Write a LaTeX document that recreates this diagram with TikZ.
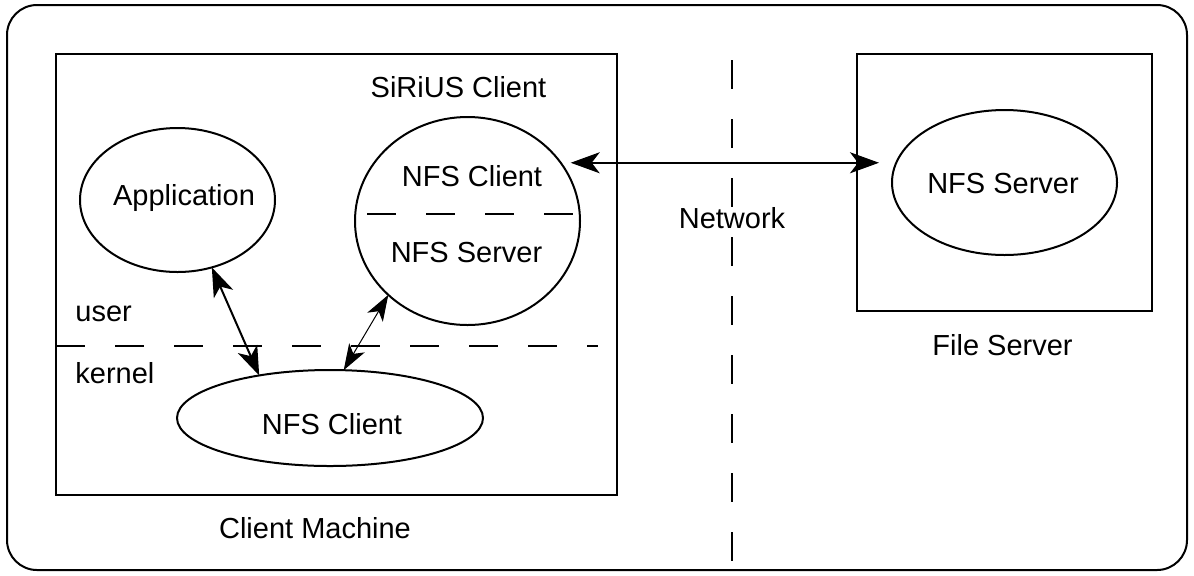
\documentclass[tikz,border=0pt]{standalone}
\usepackage{fontspec}
\setmainfont{Liberation Sans}
\usetikzlibrary{shapes.geometric,arrows.meta}

\tikzset{
  frame/.style={draw, line width=1pt, inner sep=0pt, outer sep=0pt},
  oval/.style={draw, ellipse, line width=1pt, inner sep=0pt, outer sep=0pt},
  txt/.style={font=\fontsize{14.5pt}{17pt}\selectfont, inner sep=0pt, text height=0.72em, text depth=0pt, yshift=-1.5pt},
  divider/.style={line width=1pt, dash pattern=on 14.5pt off 15pt},
  bigarrow/.style={line width=1pt, {Stealth[length=14.5pt,width=10.5pt,inset=4pt]}-{Stealth[length=14.5pt,width=10.5pt,inset=4pt]}},
  thinarrow/.style={line width=0.5pt, {Stealth[length=13pt,width=9pt,inset=3.5pt]}-{Stealth[length=13pt,width=9pt,inset=3.5pt]}}
}

\begin{document}
\begin{tikzpicture}[x=0.5pt, y=-0.5pt]
\useasboundingbox (0,0) rectangle (1194,575);

% outer frame
\draw[line width=1pt, rounded corners=15pt] (7,5) rectangle (1187,570);

% client machine
\node[frame, minimum width=280.5pt, minimum height=220.5pt] (client) at (336.5,274.5) {};
\node[txt] (clientlbl) at (315,528) {Client Machine};

% file server
\node[frame, minimum width=147.5pt, minimum height=128.5pt] (server) at (1004.5,182.5) {};
\node[txt] (serverlbl) at (1002.5,345) {File Server};
\node[oval, minimum width=112.5pt, minimum height=72.5pt] (fsn) at (1004.5,182.5) {};
\node[txt] (fsnlbl) at (1003,183.5) {NFS Server};

% network divider
\draw[divider] (732,60) -- (732,562);
\node[txt] (netlbl) at (732,218) {Network};

% user / kernel boundary
\draw[divider] (56,346) -- (598,346);
\node[txt, anchor=west] (userlbl) at (75,311.5) {user};
\node[txt, anchor=west] (kernellbl) at (75,373) {kernel};

% application
\node[oval, minimum width=97.5pt, minimum height=72pt] (app) at (177.5,200) {};
\node[txt] (applbl) at (184,195) {Application};

% SiRiUS client
\node[txt] (sirlbl) at (458.5,87.5) {SiRiUS Client};
\node[oval, minimum width=112.5pt, minimum height=104pt] (sir) at (467.5,221) {};
\draw[divider] (367,214) -- (573,214);
\node[txt] (sirclient) at (472,176) {NFS Client};
\node[txt] (sirserver) at (466.5,252) {NFS Server};

% kernel NFS client
\node[oval, minimum width=153pt, minimum height=48pt] (kcl) at (330,418) {};
\node[txt] (kcllbl) at (332,424) {NFS Client};

% connectors
\draw[bigarrow] (app.-63) -- (kcl.149);
\draw[thinarrow] (sir.223) -- (kcl.74);
\draw[bigarrow, shorten <=5pt, shorten >=6.5pt] (sir.32) -- (sir.32 -| fsn.west);
\end{tikzpicture}
\end{document}
